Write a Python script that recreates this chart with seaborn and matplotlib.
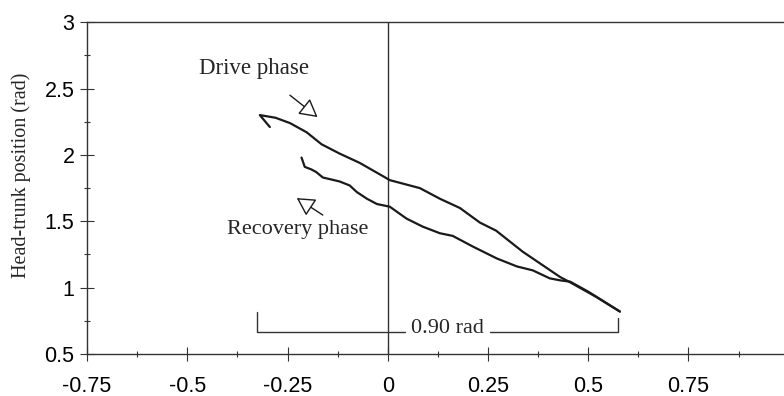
import seaborn as sns
import matplotlib.pyplot as plt
import pandas as pd

# traced curves (x: angle, y: head-trunk position, rad)
drive_x = [-0.294, -0.319, -0.28, -0.244, -0.202, -0.165, -0.12, -0.07, -0.012, 0.005,
           0.08, 0.13, 0.18, 0.23, 0.27, 0.337, 0.43, 0.455, 0.52, 0.579]
drive_y = [2.21, 2.30, 2.28, 2.24, 2.17, 2.08, 2.01, 1.94, 1.84, 1.81,
           1.75, 1.67, 1.60, 1.49, 1.43, 1.27, 1.08, 1.04, 0.93, 0.82]

recovery_x = [-0.215, -0.207, -0.19, -0.178, -0.162, -0.12, -0.095, -0.077, -0.052, -0.027,
              0.005, 0.047, 0.087, 0.13, 0.162, 0.212, 0.272, 0.322, 0.362, 0.404,
              0.43, 0.455, 0.50, 0.579]
recovery_y = [1.98, 1.91, 1.89, 1.87, 1.83, 1.80, 1.77, 1.72, 1.67, 1.63,
              1.61, 1.52, 1.46, 1.41, 1.39, 1.31, 1.22, 1.16, 1.13, 1.07,
              1.055, 1.045, 0.97, 0.82]

x_ticks = [-0.75, -0.5, -0.25, 0, 0.25, 0.5, 0.75, 1]
x_tick_labels = ["-0.75", "-0.5", "-0.25", "0", "0.25", "0.5", "0.75", ""]
y_ticks = [0.5, 1, 1.5, 2, 2.5, 3]
y_tick_labels = ["0.5", "1", "1.5", "2", "2.5", "3"]

# range bracket
bracket_left = -0.327
bracket_right = 0.574
bracket_y = 0.666
bracket_label = "0.90 rad"

df = pd.concat([
    pd.DataFrame({"x": drive_x, "y": drive_y, "phase": "Drive phase"}),
    pd.DataFrame({"x": recovery_x, "y": recovery_y, "phase": "Recovery phase"}),
])

sns.set_style("ticks")
plt.rcParams["font.family"] = ["Liberation Sans", "DejaVu Sans"]
plt.rcParams["axes.unicode_minus"] = False

fig = plt.figure(figsize=(7.84, 3.96), dpi=100)
ax = fig.add_axes([0.111, 0.106, 0.895, 0.838])

line_color = "#1a1a1a"
for phase, grp in df.groupby("phase"):
    sns.lineplot(data=grp, x="x", y="y", sort=False, estimator=None,
                 color=line_color, lw=1.6, ax=ax, legend=False)

ax.axvline(0, color="#333333", lw=1.0, zorder=1)

ax.set_xlim(-0.75, 1.0)
ax.set_ylim(0.5, 3.0)
ax.set_xticks(x_ticks)
ax.set_xticklabels(x_tick_labels)
ax.set_yticks(y_ticks)
ax.set_yticklabels(y_tick_labels)
ax.set_xticks([v + 0.125 for v in x_ticks[:-1]], minor=True)
ax.set_yticks([v + 0.25 for v in y_ticks[:-1]], minor=True)
ax.tick_params(which="major", direction="inout", length=10, width=0.8,
               colors="#333333", labelcolor="black", labelsize=15.5)
ax.tick_params(axis="x", which="major", pad=11)
ax.tick_params(axis="y", which="major", pad=4)
ax.tick_params(which="minor", direction="inout", length=5, width=0.8, colors="#333333")

for side in ["left", "bottom", "top", "right"]:
    ax.spines[side].set_color("#333333")
    ax.spines[side].set_linewidth(1.0)

ax.set_xlabel("")
ax.set_ylabel("Head-trunk position (rad)", family=["Liberation Serif", "DejaVu Serif"],
              fontsize=14.5)
ax.yaxis.set_label_coords(-0.08, 0.54)

serif = ["Liberation Serif", "DejaVu Serif"]
ax.text(-0.334, 2.65, "Drive phase", family=serif, fontsize=16.5, ha="center", va="center")
ax.text(-0.224, 1.44, "Recovery phase", family=serif, fontsize=16, ha="center", va="center")

arrow = dict(arrowstyle="-|>,head_length=1.0,head_width=0.55", mutation_scale=11,
             fc="white", ec=line_color, lw=1.0, shrinkA=0, shrinkB=0)
ax.annotate("", xy=(-0.175, 2.285), xytext=(-0.244, 2.45), arrowprops=arrow)
ax.annotate("", xy=(-0.227, 1.675), xytext=(-0.162, 1.547), arrowprops=arrow)

# bracket showing the range of motion
ax.plot([bracket_left, bracket_left, bracket_right, bracket_right],
        [0.816, bracket_y, bracket_y, 0.77], color="#333333", lw=1.0)
ax.text(0.15, bracket_y + 0.03, bracket_label, family=serif, fontsize=16,
        ha="center", va="center",
        bbox=dict(facecolor="white", edgecolor="none", pad=4))

fig.savefig("out.png", dpi=100)
